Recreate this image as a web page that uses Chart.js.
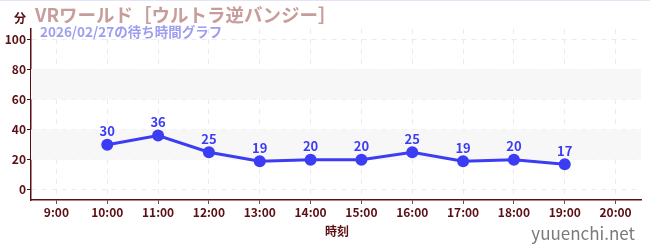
<!DOCTYPE html>
<html>
<head>
<meta charset="utf-8">
<script src="https://cdn.jsdelivr.net/npm/chart.js@4/dist/chart.umd.min.js"></script>
<style>
  html, body { margin: 0; padding: 0; background: #fff; }
  #wrap { width: 650px; height: 250px; position: relative; }
</style>
</head>
<body>
<div id="wrap"><canvas id="chart" width="650" height="250"></canvas></div>
<script>
const hours = [10, 11, 12, 13, 14, 15, 16, 17, 18, 19];
const waits = [30, 36, 25, 19, 20, 20, 25, 19, 20, 17];
const hourTicks = [9, 10, 11, 12, 13, 14, 15, 16, 17, 18, 19, 20];
const waitTicks = [0, 10, 20, 30, 40, 50, 60, 70, 80, 90, 100];
const bands = [[20, 40], [60, 80]];

const FONT = "'Noto Sans CJK JP', 'Noto Sans', sans-serif";
const MAROON = "#5a0f14";
const BLUE = "#3c3cf5";

const decorPlugin = {
    id: "decor",
    beforeDatasetsDraw(chart) {
        const { ctx, chartArea, scales } = chart;
        ctx.save();
        ctx.fillStyle = "#f7f7f7";
        bands.forEach(([lo, hi]) => {
            const y1 = scales.y.getPixelForValue(hi);
            const y2 = scales.y.getPixelForValue(lo);
            ctx.fillRect(chartArea.left, y1, chartArea.right - chartArea.left, y2 - y1);
        });
        ctx.restore();
    },
    afterDatasetsDraw(chart) {
        const { ctx } = chart;
        const meta = chart.getDatasetMeta(0);
        ctx.save();
        ctx.font = "bold 13px " + FONT;
        ctx.fillStyle = BLUE;
        ctx.textAlign = "center";
        ctx.textBaseline = "bottom";
        meta.data.forEach((pt, i) => {
            ctx.fillText(String(waits[i]), pt.x, pt.y - 7);
        });
        ctx.restore();
    },
    afterDraw(chart) {
        const { ctx } = chart;
        ctx.save();
        ctx.strokeStyle = "#e4e4f6";
        ctx.lineWidth = 1;
        ctx.beginPath();
        ctx.moveTo(0, 0.5);
        ctx.lineTo(650, 0.5);
        ctx.stroke();

        ctx.textBaseline = "alphabetic";
        ctx.textAlign = "left";
        ctx.fillStyle = MAROON;
        ctx.font = "bold 12px " + FONT;
        ctx.fillText("分", 14, 23);

        ctx.fillStyle = "#c99c9c";
        ctx.font = "bold 18.5px " + FONT;
        ctx.fillText("VRワールド［ウルトラ逆バンジー］", 35, 22);

        ctx.fillStyle = "#9d9df2";
        ctx.font = "bold 13.5px " + FONT;
        ctx.fillText("2026/02/27の待ち時間グラフ", 40, 37);

        ctx.fillStyle = MAROON;
        ctx.font = "bold 12px " + FONT;
        ctx.textAlign = "center";
        ctx.fillText("時刻", 337, 236);

        ctx.fillStyle = "#7a7a7a";
        ctx.font = "17px " + FONT;
        ctx.textAlign = "right";
        ctx.fillText("yuuenchi.net", 635, 240);
        ctx.restore();
    }
};

new Chart(document.getElementById("chart"), {
    type: "line",
    data: {
        datasets: [{
            data: hours.map((h, i) => ({ x: h, y: waits[i] })),
            borderColor: BLUE,
            backgroundColor: BLUE,
            borderWidth: 3,
            pointRadius: 6,
            pointHoverRadius: 6,
            pointBackgroundColor: BLUE,
            pointBorderWidth: 0,
            tension: 0,
            clip: false,
        }],
    },
    options: {
        responsive: false,
        animation: false,
        events: [],
        layout: { padding: { top: 29, right: 9, left: 0, bottom: 0 } },
        plugins: { legend: { display: false }, tooltip: { enabled: false } },
        scales: {
            x: {
                type: "linear",
                min: 8.5,
                max: 20.5,
                afterBuildTicks: (s) => { s.ticks = hourTicks.map((v) => ({ value: v })); },
                afterFit: (s) => { s.height = 50; },
                border: { color: MAROON, width: 1.5, dash: [5, 5] },
                grid: {
                    color: "#ebebeb",
                    tickColor: "#555",
                    tickLength: 4,
                    tickBorderDash: [],
                },
                ticks: {
                    color: MAROON,
                    font: { family: FONT, size: 12, weight: "bold" },
                    padding: 1,
                    callback: (v) => v + ":00",
                },
            },
            y: {
                min: -6.7,
                max: 106.7,
                afterBuildTicks: (s) => { s.ticks = waitTicks.map((v) => ({ value: v })); },
                afterFit: (s) => { s.width = 31; },
                border: { color: MAROON, width: 1.5, dash: [5, 5] },
                grid: {
                    color: (c) => (c.tick && c.tick.value % 20 === 0 ? "#ebebeb" : "rgba(0,0,0,0)"),
                    tickColor: (c) => (c.tick && c.tick.value % 20 === 0 ? "#222" : "#e03030"),
                    tickLength: 4,
                    tickBorderDash: [],
                },
                ticks: {
                    color: MAROON,
                    font: { family: FONT, size: 12, weight: "bold" },
                    padding: 1,
                    callback: (v) => (v % 20 === 0 ? String(v) : ""),
                },
            },
        },
    },
    plugins: [decorPlugin],
});
</script>
</body>
</html>
